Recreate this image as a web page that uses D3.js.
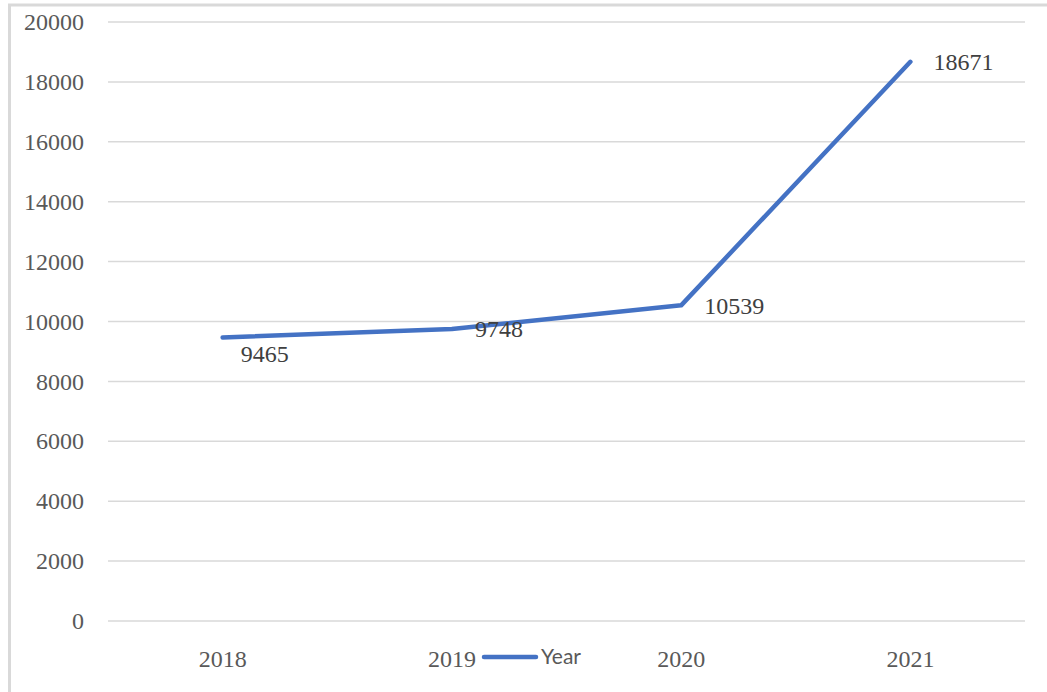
<!DOCTYPE html>
<html>
<head>
    <style>
        body { margin: 0; background: #fff; }
        .tick-label { font: 24px "Liberation Serif", "Times New Roman", serif; fill: #595959; }
        .data-label { font: 24px "Liberation Serif", "Times New Roman", serif; fill: #404040; }
        .legend text { font: 21px Lato, "Open Sans", sans-serif; fill: #595959; }
    </style>
    <script src="https://d3js.org/d3.v7.min.js"></script>
</head>
<body>
    <svg width="1047" height="692"></svg>
    <script>
        let years = ["2018", "2019", "2020", "2021"];
        let values = [9465, 9748, 10539, 18671];
        let yTicks = [0, 2000, 4000, 6000, 8000, 10000, 12000, 14000, 16000, 18000, 20000];
        let seriesName = "Year";

        let svg = d3.select("svg");
        let plotLeft = 108, plotRight = 1025, plotTop = 22, plotBottom = 621;

        // outer chart frame (runs off the bottom/right of the picture)
        svg.append("rect")
            .attr("x", 9.5).attr("y", 5)
            .attr("width", 1100).attr("height", 760)
            .attr("fill", "none")
            .attr("stroke", "#d9d9d9")
            .attr("stroke-width", 3);

        let x = d3.scalePoint().domain(years).range([plotLeft, plotRight]).padding(0.5);
        let y = d3.scaleLinear().domain([0, 20000]).range([plotBottom, plotTop]);

        // gridlines
        svg.append("g")
            .selectAll("line")
            .data(yTicks)
            .join("line")
            .attr("x1", plotLeft).attr("x2", plotRight)
            .attr("y1", d => y(d)).attr("y2", d => y(d))
            .attr("stroke", "#d9d9d9")
            .attr("stroke-width", 1.5);

        // y labels
        svg.append("g")
            .selectAll("text")
            .data(yTicks)
            .join("text")
            .attr("class", "tick-label")
            .attr("x", 84)
            .attr("y", d => y(d))
            .attr("dy", "0.34em")
            .attr("text-anchor", "end")
            .text(d => d);

        // x labels
        svg.append("g")
            .selectAll("text")
            .data(years)
            .join("text")
            .attr("class", "tick-label")
            .attr("x", d => x(d))
            .attr("y", 667)
            .attr("text-anchor", "middle")
            .text(d => d);

        let line = d3.line()
            .x((d, i) => x(years[i]))
            .y(d => y(d));

        svg.append("path")
            .datum(values)
            .attr("d", line)
            .attr("fill", "none")
            .attr("stroke", "#4472c4")
            .attr("stroke-width", 4.5)
            .attr("stroke-linecap", "round")
            .attr("stroke-linejoin", "round");

        // data labels, right of point; first one was nudged down in the original
        svg.append("g")
            .selectAll("text")
            .data(values)
            .join("text")
            .attr("class", "data-label")
            .attr("x", (d, i) => x(years[i]) + (i == 0 ? 18 : 23))
            .attr("y", (d, i) => y(d) + (i == 0 ? 16 : 0))
            .attr("dy", "0.34em")
            .text(d => d);

        // legend
        let legend = svg.append("g").attr("class", "legend");
        legend.append("line")
            .attr("x1", 484).attr("x2", 536)
            .attr("y1", 657).attr("y2", 657)
            .attr("stroke", "#4472c4")
            .attr("stroke-width", 4.5)
            .attr("stroke-linecap", "round");
        legend.append("text")
            .attr("x", 541)
            .attr("y", 664)
            .text(seriesName);
    </script>
</body>
</html>
